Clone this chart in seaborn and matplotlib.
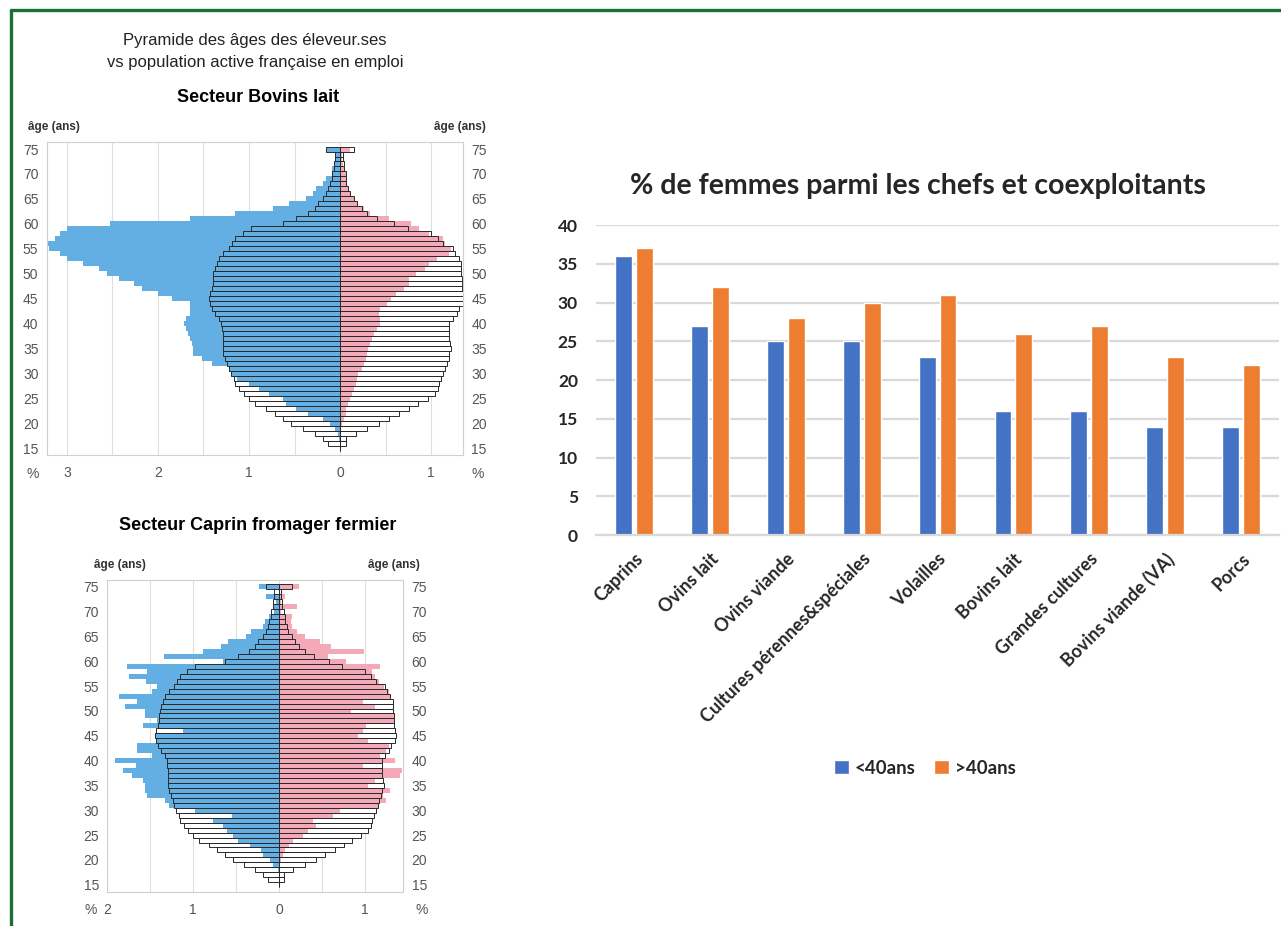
import numpy as np
import pandas as pd
import matplotlib
matplotlib.use("Agg")
import matplotlib.pyplot as plt
import matplotlib.transforms as mtransforms
import seaborn as sns
from matplotlib.lines import Line2D
from matplotlib.ticker import MultipleLocator

# ---- data ----
ages = list(range(15, 76))

# population active française en emploi (%), same in both pyramids
pop_hommes = [0.0, 0.13, 0.19, 0.28, 0.41, 0.54, 0.63, 0.72, 0.81, 0.93,
              1.00, 1.06, 1.11, 1.15, 1.17, 1.20, 1.22, 1.24, 1.26, 1.28,
              1.29, 1.29, 1.29, 1.29, 1.30, 1.31, 1.33, 1.37, 1.41, 1.43,
              1.44, 1.43, 1.41, 1.40, 1.40, 1.39, 1.37, 1.35, 1.33, 1.28,
              1.22, 1.19, 1.15, 1.07, 0.98, 0.63, 0.48, 0.35, 0.28, 0.24,
              0.19, 0.15, 0.13, 0.11, 0.09, 0.09, 0.07, 0.07, 0.06, 0.06, 0.15]
pop_femmes = [0.0, 0.06, 0.06, 0.17, 0.30, 0.43, 0.54, 0.65, 0.76, 0.85,
              0.96, 1.04, 1.07, 1.09, 1.11, 1.13, 1.15, 1.17, 1.19, 1.20,
              1.22, 1.21, 1.20, 1.20, 1.20, 1.20, 1.24, 1.28, 1.31, 1.35,
              1.37, 1.35, 1.34, 1.34, 1.34, 1.33, 1.33, 1.33, 1.30, 1.26,
              1.24, 1.13, 1.07, 1.00, 0.74, 0.59, 0.41, 0.30, 0.24, 0.19,
              0.15, 0.11, 0.09, 0.07, 0.07, 0.06, 0.04, 0.04, 0.03, 0.03, 0.15]

# secteur bovins lait
bl_hommes = [0.0, 0.0, 0.01, 0.02, 0.06, 0.11, 0.19, 0.35, 0.48, 0.59,
             0.63, 0.78, 0.89, 1.00, 1.13, 1.19, 1.22, 1.41, 1.52, 1.62,
             1.62, 1.63, 1.65, 1.67, 1.69, 1.71, 1.69, 1.65, 1.65, 1.65,
             1.84, 2.00, 2.18, 2.26, 2.43, 2.56, 2.65, 2.82, 3.00, 3.07,
             3.19, 3.25, 3.13, 3.07, 3.00, 2.53, 1.65, 1.15, 0.74, 0.56,
             0.37, 0.30, 0.26, 0.19, 0.15, 0.09, 0.09, 0.06, 0.05, 0.04, 0.15]
bl_femmes = [0.0, 0.0, 0.0, 0.0, 0.01, 0.02, 0.04, 0.06, 0.07, 0.09,
             0.11, 0.13, 0.15, 0.17, 0.19, 0.20, 0.24, 0.26, 0.28, 0.30,
             0.31, 0.33, 0.35, 0.37, 0.41, 0.44, 0.44, 0.43, 0.44, 0.52,
             0.56, 0.61, 0.70, 0.76, 0.76, 0.83, 0.93, 0.98, 1.06, 1.19,
             1.22, 1.15, 1.13, 0.98, 0.87, 0.78, 0.54, 0.33, 0.26, 0.20,
             0.15, 0.11, 0.09, 0.07, 0.07, 0.06, 0.04, 0.03, 0.02, 0.02, 0.11]

# secteur caprin fromager fermier
cf_hommes = [0.0, 0.0, 0.0, 0.01, 0.07, 0.10, 0.18, 0.21, 0.34, 0.48,
             0.53, 0.61, 0.65, 0.77, 0.55, 0.98, 1.28, 1.33, 1.54, 1.56,
             1.56, 1.58, 1.71, 1.82, 1.67, 1.91, 1.48, 1.65, 1.66, 1.42,
             1.44, 1.12, 1.58, 1.42, 1.56, 1.56, 1.80, 1.65, 1.86, 1.48,
             1.42, 1.55, 1.75, 1.54, 1.77, 0.65, 1.34, 0.88, 0.68, 0.59,
             0.38, 0.32, 0.18, 0.16, 0.12, 0.06, 0.07, 0.03, 0.15, 0.0, 0.23]
cf_femmes = [0.0, 0.0, 0.0, 0.0, 0.01, 0.03, 0.05, 0.07, 0.12, 0.17,
             0.28, 0.34, 0.43, 0.40, 0.63, 0.71, 1.17, 1.25, 1.21, 1.29,
             1.04, 1.12, 1.41, 1.43, 0.98, 1.35, 1.18, 1.25, 1.28, 1.04,
             0.92, 0.98, 1.02, 1.35, 1.35, 0.84, 1.12, 0.98, 1.29, 1.28,
             1.23, 1.17, 1.12, 1.08, 1.18, 0.78, 0.57, 0.99, 0.61, 0.48,
             0.31, 0.21, 0.15, 0.14, 0.15, 0.03, 0.21, 0.03, 0.07, 0.0, 0.24]

# % de femmes parmi les chefs et coexploitants
filieres = ["Caprins", "Ovins lait", "Ovins viande", "Cultures pérennes&spéciales",
            "Volailles", "Bovins lait", "Grandes cultures", "Bovins viande (VA)", "Porcs"]
moins_40 = [36, 27, 25, 25, 23, 16, 16, 14, 14]
plus_40 = [37, 32, 28, 30, 31, 26, 27, 23, 22]

BLUE = "#63aee2"
PINK = "#f3a9b7"
GREY_TXT = "#555555"

sns.set_theme(style="white")
plt.rcParams["font.family"] = ["Liberation Sans", "DejaVu Sans"]

fig = plt.figure(figsize=(12.81, 9.26), dpi=100)


def pyramide(ax, hommes, femmes, xlim, xticks):
    ages_arr = np.array(ages)
    neg_pop = -np.array(pop_hommes)
    # population outline, white fill underneath
    for vals in (neg_pop, np.array(pop_femmes)):
        sns.barplot(x=vals, y=ages_arr, orient="h", native_scale=True, width=1.0,
                    color="white", edgecolor="none", saturation=1, errorbar=None, ax=ax)
    sns.barplot(x=-np.array(hommes), y=ages_arr, orient="h", native_scale=True,
                width=1.0, color=BLUE, edgecolor="none", saturation=1,
                errorbar=None, ax=ax)
    sns.barplot(x=np.array(femmes), y=ages_arr, orient="h", native_scale=True,
                width=1.0, color=PINK, edgecolor="none", saturation=1,
                errorbar=None, ax=ax)
    for vals in (neg_pop, np.array(pop_femmes)):
        sns.barplot(x=vals, y=ages_arr, orient="h", native_scale=True, width=1.0,
                    fill=False, color="#2a2a2a", linewidth=0.7, saturation=1,
                    errorbar=None, ax=ax)
    ax.set_xlim(*xlim)
    ax.set_ylim(13.6, 76.4)
    ax.set_xlabel("")
    ax.set_ylabel("")
    ax.set_xticks(xticks)
    ax.set_xticklabels([str(abs(int(t))) for t in xticks])
    ax.xaxis.set_minor_locator(MultipleLocator(0.5))
    ax.grid(axis="x", which="both", color="#dedede", lw=0.8)
    ax.set_axisbelow(True)
    ax.set_yticks(range(15, 76, 5))
    ax.tick_params(axis="y", labelleft=True, labelright=True, length=0,
                   labelsize=10, labelcolor=GREY_TXT, pad=6)
    ax.tick_params(axis="x", length=0, labelsize=10, labelcolor=GREY_TXT, pad=8)
    for s in ax.spines.values():
        s.set_color("#d0d0d0")
        s.set_linewidth(0.8)
    ax.text(-0.045, 1.03, "âge (ans)", transform=ax.transAxes, fontsize=8.5,
            fontweight="bold", color="#333333", ha="left", va="bottom")
    ax.text(1.055, 1.03, "âge (ans)", transform=ax.transAxes, fontsize=8.5,
            fontweight="bold", color="#333333", ha="right", va="bottom")


# top pyramid: bovins lait
ax1 = fig.add_axes([0.0365, 0.5086, 0.325, 0.338])
pyramide(ax1, bl_hommes, bl_femmes, (-3.22, 1.35), [-3, -2, -1, 0, 1])
ax1.text(-0.02, -0.06, "%", transform=ax1.transAxes, fontsize=10,
         color=GREY_TXT, ha="right", va="center")
ax1.text(1.02, -0.06, "%", transform=ax1.transAxes, fontsize=10,
         color=GREY_TXT, ha="left", va="center")

# bottom pyramid: caprin fromager fermier
ax2 = fig.add_axes([0.0838, 0.0371, 0.231, 0.3366])
pyramide(ax2, cf_hommes, cf_femmes, (-2.0, 1.45), [-2, -1, 0, 1])
ax2.text(-0.035, -0.06, "%", transform=ax2.transAxes, fontsize=10,
         color=GREY_TXT, ha="right", va="center")
ax2.text(1.04, -0.06, "%", transform=ax2.transAxes, fontsize=10,
         color=GREY_TXT, ha="left", va="center")

fig.text(255 / 1281, 1 - 40 / 926, "Pyramide des âges des éleveur.ses",
         fontsize=12, ha="center", va="center", color="#222222")
fig.text(255 / 1281, 1 - 62 / 926, "vs population active française en emploi",
         fontsize=12, ha="center", va="center", color="#222222")
fig.text(258 / 1281, 1 - 97 / 926, "Secteur Bovins lait", fontsize=13,
         fontweight="bold", ha="center", va="center", color="black")
fig.text(258 / 1281, 1 - 525 / 926, "Secteur Caprin fromager fermier", fontsize=13,
         fontweight="bold", ha="center", va="center", color="black")

# bar chart
df = pd.DataFrame({
    "filiere": filieres * 2,
    "valeur": moins_40 + plus_40,
    "groupe": ["<40ans"] * len(filieres) + [">40ans"] * len(filieres),
})
ax3 = fig.add_axes([0.4653, 0.4222, 0.5332, 0.3348])
sns.barplot(data=df, x="filiere", y="valeur", hue="groupe",
            palette=["#4472c4", "#ed7d31"], width=0.55, gap=0.19, saturation=1,
            errorbar=None, ax=ax3)
ax3.set_ylim(0, 40)
ax3.set_xlim(-0.5, len(filieres) - 0.5)
ax3.set_yticks(range(0, 41, 5))
ax3.grid(axis="y", color="#d9d9d9", lw=1.6)
ax3.set_axisbelow(True)
for s in ("top", "right", "left"):
    ax3.spines[s].set_visible(False)
ax3.spines["bottom"].set_color("#d9d9d9")
ax3.spines["bottom"].set_linewidth(1.6)
ax3.set_xlabel("")
ax3.set_ylabel("")
lato = ["Lato", "DejaVu Sans"]
ax3.set_xticks(range(len(filieres)))
ax3.set_xticklabels(filieres, rotation=45, ha="right", rotation_mode="anchor",
                    fontsize=13, fontweight="bold", family=lato)
shift = mtransforms.ScaledTranslation(-6 / 100, 0, fig.dpi_scale_trans)
for lab in ax3.get_xticklabels():
    lab.set_transform(lab.get_transform() + shift)
for lab in ax3.get_yticklabels():
    lab.set_fontweight("bold")
    lab.set_fontsize(12.5)
    lab.set_family(lato)
ax3.tick_params(axis="x", length=0, pad=11)
ax3.tick_params(axis="y", length=0, pad=13)
ax3.set_title("% de femmes parmi les chefs et coexploitants", fontsize=20.5,
              fontweight="bold", family=lato, pad=22, x=0.471)
leg = ax3.legend(loc="center", bbox_to_anchor=(925 / 1281, 1 - 768 / 926),
                 bbox_transform=fig.transFigure, ncol=2, frameon=False,
                 handlelength=0.8, handleheight=0.8, columnspacing=1.0,
                 handletextpad=0.3, prop={"family": lato, "weight": "bold", "size": 13.5})

# green frame (left and top edges)
green = "#1b6e36"
fig.add_artist(Line2D([11 / 1281, 11 / 1281], [0, 1 - 10 / 926], color=green, lw=2.4,
                      transform=fig.transFigure))
fig.add_artist(Line2D([11 / 1281, 1], [1 - 10 / 926, 1 - 10 / 926], color=green, lw=2.4,
                      transform=fig.transFigure))

fig.savefig("out.png", dpi=100)
